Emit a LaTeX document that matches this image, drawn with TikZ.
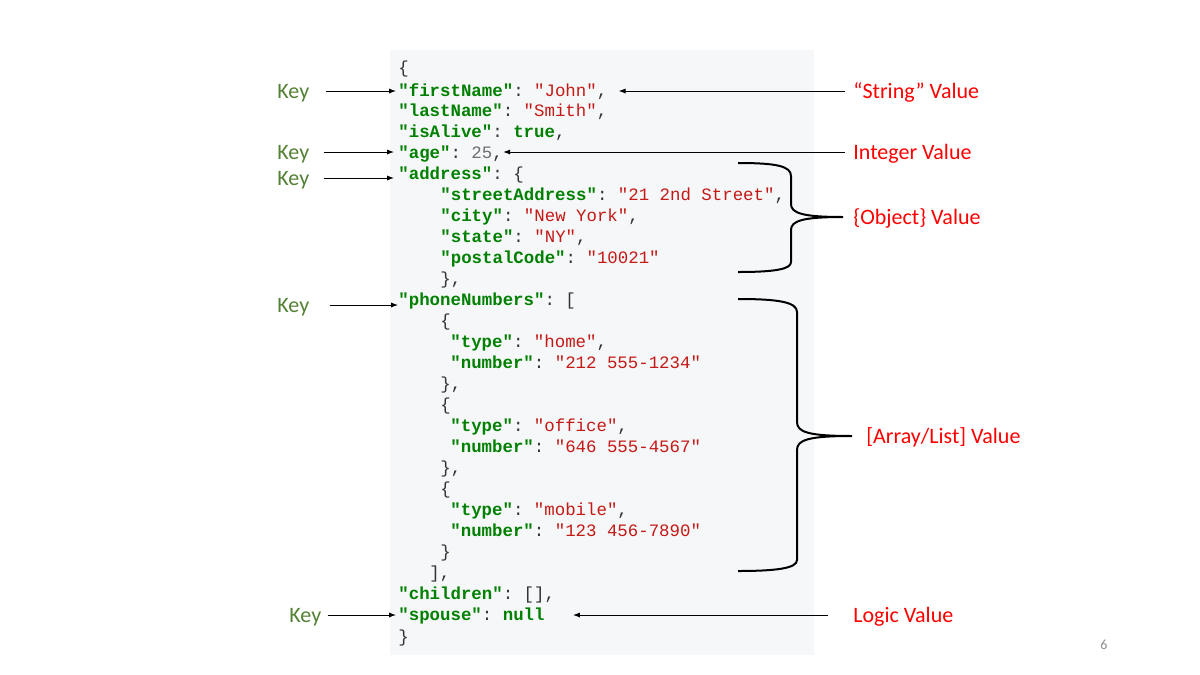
\documentclass[tikz,border=0pt]{standalone}
\usepackage{fontspec}
\setmonofont{Liberation Mono}
\newfontfamily\labelfont{Carlito}
\usetikzlibrary{arrows.meta}
\definecolor{panelgray}{RGB}{246,247,249}
\definecolor{jsongreen}{RGB}{0,128,0}
\definecolor{jsonred}{RGB}{196,26,22}
\definecolor{jsonnum}{RGB}{110,110,110}
\definecolor{jsonpunct}{RGB}{51,51,51}
\definecolor{keygreen}{RGB}{84,130,53}
\definecolor{pagegray}{RGB}{140,140,140}
\newcommand{\jk}[1]{\textcolor{jsongreen}{\bfseries"#1"}}
\newcommand{\js}[1]{\textcolor{jsonred}{"#1"}}
\newcommand{\jl}[1]{\textcolor{jsongreen}{\bfseries #1}}
\newcommand{\jn}[1]{\textcolor{jsonnum}{#1}}
\tikzset{
  code/.style={anchor=west, inner sep=0pt, text=jsonpunct, font=\ttfamily\fontsize{8.7}{10}\selectfont, text height=8pt, text depth=1.6pt},
  keylabel/.style={anchor=west, inner sep=0pt, text=keygreen, font=\labelfont\fontsize{11}{13}\selectfont, text height=7pt, text depth=0pt},
  vallabel/.style={anchor=west, inner sep=0pt, text=red, font=\labelfont\fontsize{11}{13}\selectfont, text height=7pt, text depth=0pt},
  arr/.style={-{Latex[length=3.5pt,width=2.6pt]}, line width=0.5pt},
  bracket/.style={line width=1pt}
}
\begin{document}
\begin{tikzpicture}[x=0.5pt,y=0.5pt,yscale=-1]
\fill[white] (0,0) rectangle (1200,675);
\useasboundingbox (0,0) rectangle (1200,675);
\fill[panelgray] (390,50) rectangle (814,655);
% json lines
\node (l1) at (398,67) [code] {\{};
\node (l2) at (398,90) [code] {\jk{firstName}: \js{John},};
\node (l3) at (398,110) [code] {\jk{lastName}: \js{Smith},};
\node (l4) at (398,131) [code] {\jk{isAlive}: \jl{true},};
\node (l5) at (398,152) [code] {\jk{age}: \jn{25},};
\node (l6) at (398,173) [code] {\jk{address}: \{};
\node (l7) at (440,194) [code] {\jk{streetAddress}: \js{21 2nd Street},};
\node (l8) at (440,215) [code] {\jk{city}: \js{New York},};
\node (l9) at (440,236) [code] {\jk{state}: \js{NY},};
\node (l10) at (440,257) [code] {\jk{postalCode}: \js{10021}};
\node (l11) at (440,278) [code] {\},};
\node (l12) at (398,299) [code] {\jk{phoneNumbers}: [};
\node (l13) at (440,320) [code] {\{};
\node (l14) at (450,341) [code] {\jk{type}: \js{home},};
\node (l15) at (450,362) [code] {\jk{number}: \js{212 555-1234}};
\node (l16) at (440,383) [code] {\},};
\node (l17) at (440,404) [code] {\{};
\node (l18) at (450,425) [code] {\jk{type}: \js{office},};
\node (l19) at (450,446) [code] {\jk{number}: \js{646 555-4567}};
\node (l20) at (440,467) [code] {\},};
\node (l21) at (440,488) [code] {\{};
\node (l22) at (450,509) [code] {\jk{type}: \js{mobile},};
\node (l23) at (450,530) [code] {\jk{number}: \js{123 456-7890}};
\node (l24) at (440,551) [code] {\}};
\node (l25) at (429,572) [code] {],};
\node (l26) at (398,593) [code] {\jk{children}: [],};
\node (l27) at (398,614) [code] {\jk{spouse}: \jl{null}};
\node (l28) at (398,636) [code] {\}};
% labels
\node (k1) at (277,91) [keylabel] {Key};
\node (k2) at (277,152) [keylabel] {Key};
\node (k3) at (277,178) [keylabel] {Key};
\node (k4) at (277,305) [keylabel] {Key};
\node (k5) at (289,615) [keylabel] {Key};
\node (vstring) at (853,91) [vallabel] {“String” Value};
\node (vinteger) at (853,152) [vallabel] {Integer Value};
\node (vobject) at (853,217) [vallabel] {\{Object\} Value};
\node (varray) at (866,436) [vallabel] {[Array/List] Value};
\node (vlogic) at (853,615) [vallabel] {Logic Value};
\node (pagenum) at (1104,645) [text=pagegray, font=\labelfont\fontsize{7}{8}\selectfont] {6};
% key arrows
\draw [arr, shorten <=8pt, shorten >=1pt] (k1.east) -- (k1.east -| l2.west);
\draw [arr, shorten <=7pt, shorten >=2pt] (k2.east) -- (k2.east -| l5.west);
\draw [arr, shorten <=7pt, shorten >=2pt] (k3.east) -- (k3.east -| l6.west);
\draw [arr, shorten <=10pt, shorten >=0pt] (k4.east) -- (k4.east -| l12.west);
\draw [arr, shorten <=3pt, shorten >=1pt] (k5.east) -- (k5.east -| l27.west);
% value arrows
\draw [arr, shorten <=4pt, shorten >=5.5pt] (vstring.west) -- (vstring.west -| l2.east);
\draw [arr, shorten <=4pt] (vinteger.west) -- (vinteger.west -| l5.east);
\draw [arr, shorten <=12.5pt, shorten >=14pt] (vlogic.west) -- (vlogic.west -| l27.east);
% braces
\draw [bracket] (738,163) .. controls (776,163) and (791,166) .. (791,176) -- (791,204) .. controls (791,213) and (802,217) .. (843,217) .. controls (802,217) and (791,221) .. (791,230) -- (791,262) .. controls (791,269) and (776,272) .. (738,272);
\draw [bracket] (738,299) .. controls (778,299) and (797,302) .. (797,312) -- (797,422) .. controls (797,432) and (808,436) .. (852,436) .. controls (808,436) and (797,440) .. (797,450) -- (797,560) .. controls (797,568) and (778,571) .. (738,571);
\end{tikzpicture}
\end{document}
